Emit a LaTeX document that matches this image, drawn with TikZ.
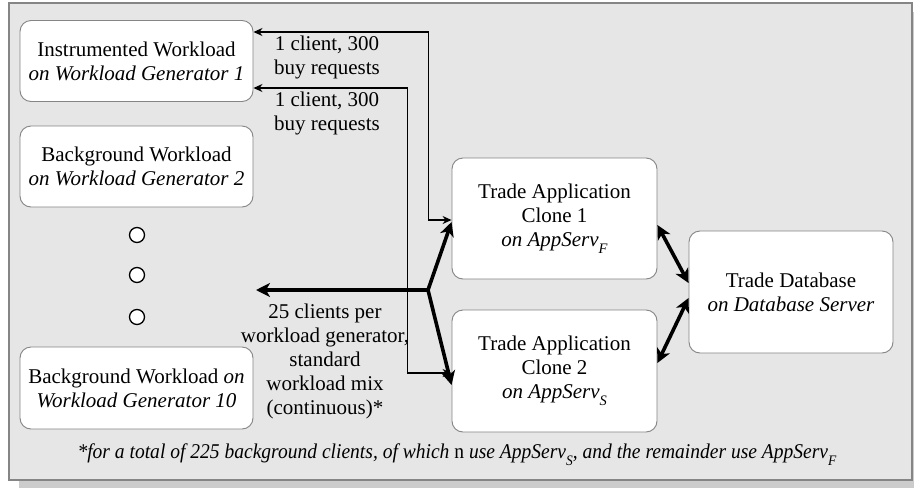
\documentclass[tikz,border=0pt]{standalone}
\usepackage{fontspec}
\setmainfont{Liberation Serif}
\usetikzlibrary{arrows.meta,calc}
\definecolor{panelgray}{HTML}{E6E6E6}
\definecolor{shadowgray}{HTML}{CCCCCC}
\definecolor{edgegray}{HTML}{858585}
\newcommand{\lowsub}[1]{\raisebox{-0.32em}{\fontsize{14.5}{14.5}\selectfont\textit{#1}}}
\tikzset{
  box/.style={draw=edgegray, line width=0.9pt, fill=white, rounded corners=11pt,
    align=center, inner sep=0pt, font=\fontsize{21}{24}\selectfont},
  lbl/.style={align=center, inner sep=0pt, font=\fontsize{21}{24}\selectfont},
  thinlink/.style={draw=black, line width=1.3pt, {Stealth[length=9pt,width=8pt]}-{Stealth[length=9pt,width=8pt]}},
  heavy/.style={draw=black, line width=3.6pt, -{Stealth[length=14pt,width=14pt,inset=4pt]}},
  heavyboth/.style={draw=black, line width=3.6pt, {Stealth[length=14pt,width=14pt,inset=4pt]}-{Stealth[length=14pt,width=14pt,inset=4pt]}},
  dot/.style={circle, draw=black, line width=1.3pt, fill=white, minimum size=15pt, inner sep=0pt}
}
\begin{document}
\begin{tikzpicture}[x=1pt,y=-1pt]
  \useasboundingbox (0,0) rectangle (914,488);
  % panel with drop shadow
  \fill[shadowgray] (19,12) rectangle (922,488);
  \draw[edgegray, line width=1.2pt, fill=panelgray] (9,3) rectangle (912,480);

  % workload generators
  \node[box, minimum width=233pt, minimum height=81pt] (wg1) at (136.5,61)
    {Instrumented Workload\\\textit{on Workload Generator 1}};
  \node[box, minimum width=233pt, minimum height=81pt] (wg2) at (136.5,166.5)
    {Background Workload\\\textit{on Workload Generator 2}};
  \node[dot] (d1) at (137,235) {};
  \node[dot] (d2) at (137,275) {};
  \node[dot] (d3) at (137,317) {};
  \node[box, minimum width=233pt, minimum height=82pt] (wg10) at (136.5,388)
    {Background Workload \textit{on}\\\textit{Workload Generator 10}};

  % application clones and database
  \node[box, minimum width=205pt, minimum height=121pt] (c1) at (554.5,218.5)
    {Trade Application\\Clone 1\\\textit{on AppServ}\lowsub{F}};
  \node[box, minimum width=205pt, minimum height=122pt] (c2) at (554.5,371)
    {Trade Application\\Clone 2\\\textit{on AppServ}\lowsub{S}};
  \node[box, minimum width=204pt, minimum height=122pt] (db) at (791,292)
    {Trade Database\\\textit{on Database Server}};

  % instrumented request paths
  \draw[thinlink] ([yshift=29pt]wg1.east) -| ([xshift=-23pt,yshift=-1.5pt]c1.west) -- ([yshift=-1.5pt]c1.west);
  \draw[thinlink] ([yshift=-27pt]wg1.east) -| ([xshift=-44pt,yshift=-2pt]c2.west) -- ([yshift=-2pt]c2.west);
  \node[lbl] (l1) at (327,57) {1 client, 300\\buy requests};
  \node[lbl] (l2) at (327,113) {1 client, 300\\buy requests};

  % background load fan-out
  \coordinate (J) at (428,290);
  \coordinate (L) at (256,290);
  \draw[heavy] (J) -- (L);
  \draw[heavy] (J) -- ([yshift=-3.5pt]c1.west);
  \draw[heavy] (J) -- ([yshift=-14pt]c2.west);
  \node[lbl] (l3) at (325,361) {25 clients per\\workload generator,\\standard\\workload mix\\(continuous)*};

  % database links
  \draw[heavyboth] ([yshift=-6.5pt]c1.east) -- ([yshift=9pt]db.west);
  \draw[heavyboth] ([yshift=8pt]c2.east) -- ([yshift=-6pt]db.west);

  % footnote
  \node[lbl] (fn) at (457,455) {\scalebox{0.93}[1]{\textit{*for a total of 225 background clients, of which} n \textit{use AppServ}\lowsub{S}\textit{, and the remainder use AppServ}\lowsub{F}}};
\end{tikzpicture}
\end{document}
